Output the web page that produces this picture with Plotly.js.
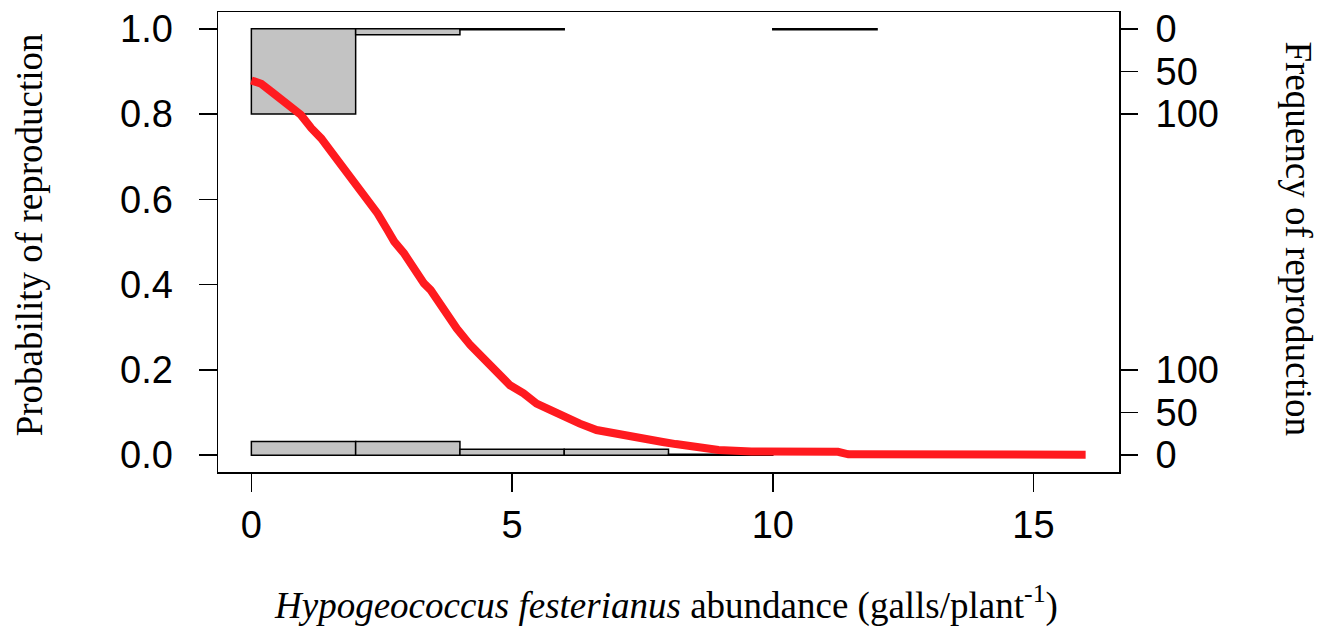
<!DOCTYPE html>
<html>
<head>
<meta charset="utf-8">
<script src="https://cdn.plot.ly/plotly-3.0.1.min.js"></script>
<style>
  html, body { margin: 0; padding: 0; background: #fff; }
  #chart { width: 1328px; height: 627px; }
</style>
</head>
<body>
<div id="chart"></div>
<script>
// Fitted probability of reproduction along gall abundance
const curveX = [0, 0.19, 0.38, 0.54, 0.76, 0.95, 1.15, 1.34, 1.53, 1.65, 1.81, 2.0, 2.23, 2.42, 2.61, 2.74,
  2.93, 3.12, 3.31, 3.44, 3.69, 3.94, 4.2, 4.45, 4.71, 4.96, 5.22, 5.47, 5.73, 5.98, 6.3, 6.62, 6.93, 7.25,
  7.57, 7.89, 8.14, 8.45, 8.96, 9.59, 11.25, 11.45, 16];
const curveP = [0.879, 0.871, 0.853, 0.837, 0.818, 0.798, 0.767, 0.743, 0.712, 0.692, 0.673, 0.634, 0.599, 0.567, 0.528, 0.501,
  0.473, 0.434, 0.403, 0.387, 0.340, 0.297, 0.258, 0.227, 0.196, 0.164, 0.145, 0.121, 0.106, 0.090, 0.074, 0.059, 0.051, 0.043,
  0.035, 0.031, 0.026, 0.020, 0.012, 0.0085, 0.008, 0.002, 0.001];

// Histogram bins (width 2) of plants that reproduced (top) and did not (bottom)
const binWidth = 2;
const reproBinStart = [0, 2, 4, 10];
const reproCounts = [100, 7, 1, 1];
const noReproBinStart = [0, 2, 4, 6, 8];
const noReproCounts = [16, 16, 7, 7, 1];

// Right-axis frequency ticks
const freqTicks = [0, 50, 100];
const freqPerUnit = 0.2 / 100;   // 100 plants span 0.2 on the probability axis

const xTicks = [0, 5, 10, 15];
const yTicks = [0, 0.2, 0.4, 0.6, 0.8, 1.0];

const grey = '#c3c3c3';
const tickFont = { family: 'Liberation Sans, Arial, sans-serif', size: 38, color: '#000' };
const titleFont = { family: 'Liberation Serif, Times New Roman, serif', size: 37, color: '#000' };

const centers = starts => starts.map(s => s + binWidth / 2);

const topBars = {
  type: 'bar',
  x: centers(reproBinStart),
  y: reproCounts.map(c => -c * freqPerUnit),
  base: 1,
  width: binWidth,
  marker: { color: grey, line: { color: '#000', width: 1.5 } },
  hoverinfo: 'skip',
  showlegend: false
};

const bottomBars = {
  type: 'bar',
  x: centers(noReproBinStart),
  y: noReproCounts.map(c => c * freqPerUnit),
  base: 0,
  width: binWidth,
  marker: { color: grey, line: { color: '#000', width: 1.5 } },
  hoverinfo: 'skip',
  showlegend: false
};

const curve = {
  type: 'scatter',
  mode: 'lines',
  x: curveX,
  y: curveP,
  line: { color: '#ff1a1f', width: 8, shape: 'linear' },
  hoverinfo: 'skip',
  showlegend: false
};

// Invisible trace that anchors the right-hand frequency axis
const rightAnchor = {
  type: 'scatter',
  mode: 'none',
  x: [0],
  y: [0],
  yaxis: 'y2',
  hoverinfo: 'skip',
  showlegend: false
};

const rightVals = freqTicks.map(f => 1 - f * freqPerUnit).concat(freqTicks.map(f => f * freqPerUnit));
const rightText = freqTicks.map(String).concat(freqTicks.map(String));

const layout = {
  width: 1328,
  height: 627,
  margin: { l: 218, r: 209, t: 12, b: 155 },
  paper_bgcolor: '#fff',
  plot_bgcolor: '#fff',
  barmode: 'overlay',
  bargap: 0,
  xaxis: {
    range: [-0.64, 16.64],
    tickvals: xTicks,
    ticktext: xTicks.map(String),
    ticks: 'outside',
    ticklen: 18,
    tickwidth: 1.5,
    tickcolor: '#000',
    ticklabelstandoff: 1,
    tickfont: tickFont,
    showgrid: false,
    zeroline: false,
    showline: true,
    mirror: true,
    linecolor: '#000',
    linewidth: 1.5
  },
  yaxis: {
    range: [-0.0395, 1.0395],
    tickvals: yTicks,
    ticktext: yTicks.map(v => v.toFixed(1)),
    ticks: 'outside',
    ticklen: 18,
    tickwidth: 1.5,
    tickcolor: '#000',
    ticklabelstandoff: 18,
    tickfont: tickFont,
    showgrid: false,
    zeroline: false,
    showline: true,
    mirror: true,
    linecolor: '#000',
    linewidth: 1.5
  },
  yaxis2: {
    overlaying: 'y',
    side: 'right',
    range: [-0.0395, 1.0395],
    tickvals: rightVals,
    ticktext: rightText,
    ticks: 'outside',
    ticklen: 18,
    tickwidth: 1.5,
    tickcolor: '#000',
    ticklabelstandoff: 10,
    tickfont: tickFont,
    showgrid: false,
    zeroline: false,
    showline: false
  },
  annotations: [
    {
      text: 'Probability of reproduction',
      xref: 'paper', yref: 'paper',
      x: -0.2095, y: 0.515,
      xanchor: 'center', yanchor: 'middle',
      textangle: -90,
      showarrow: false,
      font: titleFont
    },
    {
      text: 'Frequency of reproduction',
      xref: 'paper', yref: 'paper',
      x: 1.1987, y: 0.5076,
      xanchor: 'center', yanchor: 'middle',
      textangle: 90,
      showarrow: false,
      font: titleFont
    },
    {
      text: '<i>Hypogeococcus festerianus</i> abundance (galls/plant<sup>-1</sup>)',
      xref: 'paper', yref: 'paper',
      x: 0.497, y: -0.285,
      xanchor: 'center', yanchor: 'middle',
      showarrow: false,
      font: titleFont
    }
  ]
};

Plotly.newPlot('chart', [topBars, bottomBars, curve, rightAnchor], layout, { displayModeBar: false, staticPlot: true });
</script>
</body>
</html>
